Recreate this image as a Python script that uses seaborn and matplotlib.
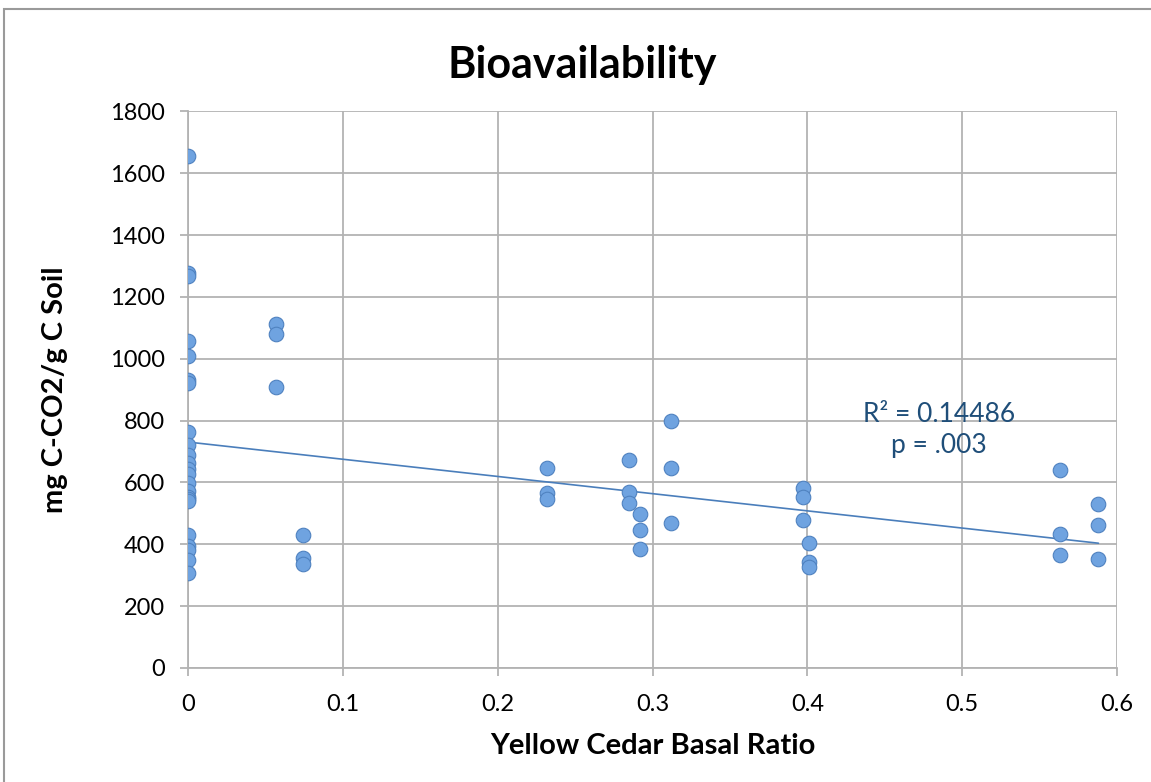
import matplotlib
matplotlib.use("Agg")
import matplotlib.pyplot as plt
import seaborn as sns
import pandas as pd
from matplotlib.patches import Rectangle

# ---- data ----
ratio_0 = [0.0] * 23
bio_0 = [1655, 1278, 1266, 1057, 1008, 932, 922, 762, 720, 690, 664, 642,
         628, 599, 572, 552, 545, 539, 431, 395, 382, 350, 308]
ratio_a = [0.057, 0.057, 0.057, 0.074, 0.074, 0.074]
bio_a = [1112, 1080, 908, 431, 355, 337]
ratio_b = [0.232, 0.232, 0.232, 0.285, 0.285, 0.285, 0.292, 0.292, 0.292,
           0.312, 0.312, 0.312]
bio_b = [645, 564, 545, 672, 570, 534, 498, 445, 385, 799, 648, 469]
ratio_c = [0.397, 0.397, 0.397, 0.401, 0.401, 0.401,
           0.563, 0.563, 0.563, 0.588, 0.588, 0.588]
bio_c = [583, 554, 478, 404, 342, 327, 641, 434, 366, 530, 461, 352]

title = "Bioavailability"
x_label = "Yellow Cedar Basal Ratio"
y_label = "mg C-CO2/g C Soil"
x_ticks = [0, 0.1, 0.2, 0.3, 0.4, 0.5, 0.6]
x_tick_labels = ["0", "0.1", "0.2", "0.3", "0.4", "0.5", "0.6"]
y_ticks = [0, 200, 400, 600, 800, 1000, 1200, 1400, 1600, 1800]
annot_text = "R\u00b2 = 0.14486\np = .003"

df = pd.DataFrame({
    "ratio": ratio_0 + ratio_a + ratio_b + ratio_c,
    "bio": bio_0 + bio_a + bio_b + bio_c,
})

sns.set_theme(style="white")
plt.rcParams["font.family"] = ["Lato", "DejaVu Sans"]
plt.rcParams["text.color"] = "black"
plt.rcParams["axes.labelcolor"] = "black"

fig = plt.figure(figsize=(11.51, 7.82), dpi=100)
ax = fig.add_axes([0.1635, 0.146, 0.807, 0.7115])

sns.regplot(data=df, x="ratio", y="bio", ax=ax, ci=None, truncate=True,
            scatter_kws=dict(s=110, color="#6fa3e0", edgecolor="#4f82c0",
                             linewidths=0.8, alpha=1, zorder=3),
            line_kws=dict(color="#4a7ebb", lw=1.2, zorder=2))

ax.set_xlim(0, 0.6)
ax.set_ylim(0, 1800)
ax.set_xticks(x_ticks)
ax.set_xticklabels(x_tick_labels)
ax.set_yticks(y_ticks)
ax.grid(True, color="#b3b3b3", lw=1.3)
ax.set_axisbelow(True)
for s in ["top", "right"]:
    ax.spines[s].set_visible(False)
for s in ["left", "bottom"]:
    ax.spines[s].set_color("#b3b3b3")
    ax.spines[s].set_linewidth(1.3)
ax.tick_params(axis="both", labelsize=17, labelcolor="black", length=6,
               width=1.3, color="#b3b3b3", direction="out",
               left=True, bottom=True)
ax.tick_params(axis="y", pad=11)
ax.tick_params(axis="x", pad=13)
ax.set_xlabel(x_label, fontsize=21, fontweight="bold", labelpad=13)
ax.set_ylabel(y_label, fontsize=21, fontweight="bold", labelpad=30)
ax.set_title(title, fontsize=31, fontweight="bold", pad=24, x=0.424)

ax.text(0.485, 770, annot_text, color="#1f4e79", fontsize=19,
        ha="center", va="center", linespacing=1.3)

fig.patches.append(Rectangle((0.0035, -0.05), 1.1, 1.038, transform=fig.transFigure,
                             fill=False, edgecolor="#9a9a9a", lw=1.5))

fig.savefig("out.png", dpi=100)
